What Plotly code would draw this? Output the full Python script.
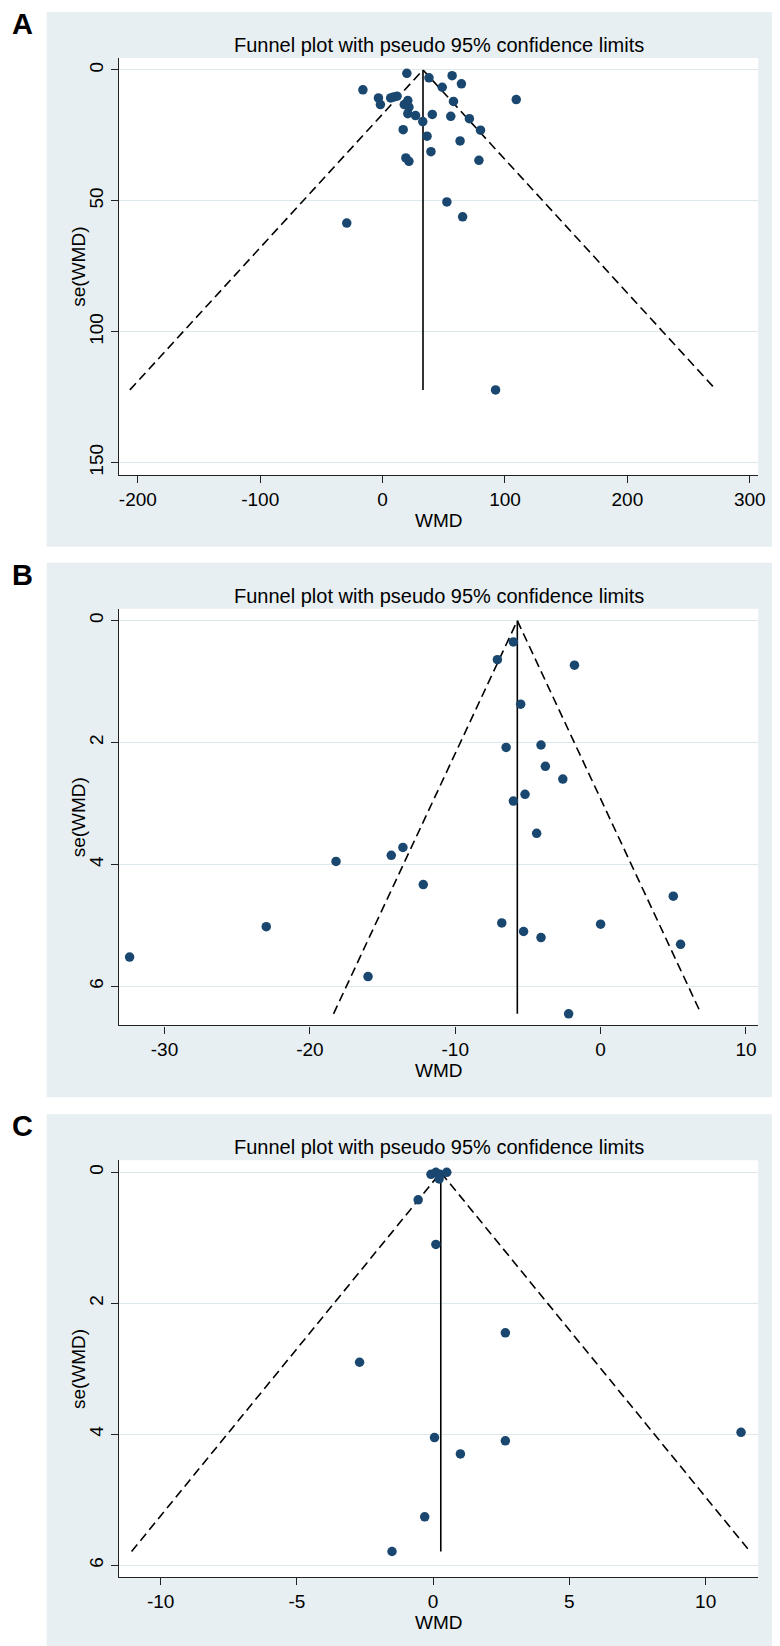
import plotly.graph_objects as go

# ---------------- data ----------------
A_wmd = [19.8, 37.9, 56.8, 64.4, 48.7, -16.1, -3.4, 6.6, 9.0, 11.8, -1.8, 20.6, 17.7, 21.5,
         20.6, 26.9, 40.6, 57.9, 109.2, 55.7, 70.9, 32.8, 16.8, 80.0, 36.3, 63.3, 39.5,
         19.0, 21.5, 78.7, 52.5, 65.4, -29.3, 92.3]
A_se = [1.3, 3.0, 2.2, 5.3, 6.6, 7.6, 10.7, 10.7, 10.3, 10.0, 13.2, 11.7, 13.2, 14.2,
        16.7, 17.4, 17.0, 12.0, 11.3, 17.7, 18.6, 19.7, 22.8, 23.0, 25.3, 27.1, 31.2,
        33.6, 34.9, 34.5, 50.4, 56.1, 58.5, 122.2]
A_pooled = 33.0

B_wmd = [-6.0, -7.1, -1.8, -5.5, -6.5, -4.1, -3.8, -2.6, -5.2, -6.0, -4.4, -14.4, -13.6,
         -18.2, -12.2, 5.0, -6.8, -5.3, -4.1, 0.0, 5.5, -32.4, -23.0, -16.0, -2.2]
B_se = [0.35, 0.64, 0.73, 1.37, 2.08, 2.04, 2.39, 2.60, 2.85, 2.96, 3.49, 3.85, 3.72,
        3.95, 4.33, 4.52, 4.96, 5.10, 5.20, 4.98, 5.31, 5.52, 5.02, 5.84, 6.45]
B_pooled = -5.73

C_wmd = [-0.08, 0.1, 0.25, 0.5, 0.22, -0.55, 0.1, 2.65, -2.7, 11.3, 0.05, 2.65, 1.0, -0.31, -1.51]
C_se = [0.03, 0.0, 0.03, 0.0, 0.1, 0.42, 1.1, 2.45, 2.9, 3.97, 4.05, 4.1, 4.3, 5.26, 5.79]
C_pooled = 0.28

A_xticks = [-200, -100, 0, 100, 200, 300]
A_yticks = [0, 50, 100, 150]
B_xticks = [-30, -20, -10, 0, 10]
B_yticks = [0, 2, 4, 6]
C_xticks = [-10, -5, 0, 5, 10]
C_yticks = [0, 2, 4, 6]

panel_letters = ["A", "B", "C"]
title_text = "Funnel plot with pseudo 95% confidence limits"
x_title = "WMD"
y_title = "se(WMD)"

# ---------------- layout constants (pixels) ----------------
W, H = 780, 1646
FONT = "Liberation Sans, Arial, sans-serif"
PANEL_BG = "#E7EFF2"
GRID = "#DDE8EC"
NAVY = "#1A476F"

offsets = [0, 551, 1103]
plot_l, plot_r = 112, 757
plot_t, plot_b = 50, 467
bg_l, bg_r, bg_t, bg_b = 39, 776, 4, 539

panels = [
    dict(wmd=A_wmd, se=A_se, pooled=A_pooled, xt=A_xticks, yt=A_yticks,
         xr=[-215.4, 306.9], yr=[154.6, -4.58]),
    dict(wmd=B_wmd, se=B_se, pooled=B_pooled, xt=B_xticks, yt=B_yticks,
         xr=[-33.13, 10.84], yr=[6.64, -0.197]),
    dict(wmd=C_wmd, se=C_se, pooled=C_pooled, xt=C_xticks, yt=C_yticks,
         xr=[-11.53, 11.93], yr=[6.18, -0.184]),
]


def fx(px):
    return px / W


def fy(py):
    return 1 - py / H


fig = go.Figure()
shapes = []
annotations = []

for i, p in enumerate(panels):
    off = offsets[i]
    n = "" if i == 0 else str(i + 1)
    xa = "xaxis" + n
    ya = "yaxis" + n
    xref = "x" + n
    yref = "y" + n

    # panel background and white plot region
    shapes.append(dict(type="rect", xref="paper", yref="paper", layer="below",
                       x0=fx(bg_l), x1=fx(bg_r), y0=fy(off + bg_b), y1=fy(off + bg_t),
                       fillcolor=PANEL_BG, line=dict(width=0)))
    shapes.append(dict(type="rect", xref="paper", yref="paper", layer="below",
                       x0=fx(plot_l), x1=fx(plot_r), y0=fy(off + plot_b), y1=fy(off + plot_t),
                       fillcolor="white", line=dict(width=0)))

    semax = max(p["se"])
    c = p["pooled"]
    # pseudo 95% CI lines
    fig.add_trace(go.Scatter(x=[c - 1.96 * semax, c, c + 1.96 * semax], y=[semax, 0, semax],
                             mode="lines", line=dict(color="black", width=1.6, dash="9px,5px"),
                             xaxis=xref, yaxis=yref, showlegend=False, hoverinfo="skip"))
    # pooled estimate line
    fig.add_trace(go.Scatter(x=[c, c], y=[0, semax], mode="lines",
                             line=dict(color="black", width=1.6),
                             xaxis=xref, yaxis=yref, showlegend=False, hoverinfo="skip"))
    # studies
    fig.add_trace(go.Scatter(x=p["wmd"], y=p["se"], mode="markers",
                             marker=dict(color=NAVY, size=9.5, line=dict(width=0)),
                             xaxis=xref, yaxis=yref, showlegend=False))

    common_axis = dict(showline=True, linecolor="#222222", linewidth=1.3, ticks="outside",
                       ticklen=7, tickwidth=1.2, tickcolor="#222222", zeroline=False,
                       tickfont=dict(family=FONT, size=19, color="black"), mirror=False)
    fig.update_layout(**{
        xa: dict(domain=[fx(plot_l), fx(plot_r)], range=p["xr"], tickmode="array",
                 tickvals=p["xt"], ticktext=[str(v) for v in p["xt"]],
                 showgrid=False, anchor=yref, **common_axis),
        ya: dict(domain=[fy(off + plot_b), fy(off + plot_t)], range=p["yr"], tickmode="array",
                 tickvals=p["yt"], ticktext=[str(v) for v in p["yt"]],
                 showgrid=True, gridcolor=GRID, gridwidth=1.2,
                 tickangle=-90, anchor=xref, **common_axis),
    })

    cx = (plot_l + plot_r) / 2
    annotations.append(dict(text=title_text, xref="paper", yref="paper", x=fx(cx), y=fy(off + 37),
                            showarrow=False, xanchor="center", yanchor="middle",
                            font=dict(family=FONT, size=20, color="black")))
    annotations.append(dict(text=x_title, xref="paper", yref="paper", x=fx(cx), y=fy(off + 500),
                            showarrow=False, xanchor="center", yanchor="top",
                            font=dict(family=FONT, size=19, color="black")))
    annotations.append(dict(text=y_title, xref="paper", yref="paper", x=fx(71),
                            y=fy(off + (plot_t + plot_b) / 2), textangle=-90,
                            showarrow=False, xanchor="center", yanchor="middle",
                            font=dict(family=FONT, size=19, color="black")))
    annotations.append(dict(text="<b>%s</b>" % panel_letters[i], xref="paper", yref="paper",
                            x=fx(15), y=fy(off + 16), showarrow=False,
                            xanchor="center", yanchor="middle",
                            font=dict(family=FONT, size=29, color="black")))

fig.update_layout(width=W, height=H, autosize=False,
                  margin=dict(l=0, r=0, t=0, b=0, pad=0),
                  paper_bgcolor="white", plot_bgcolor="rgba(0,0,0,0)",
                  shapes=shapes, annotations=annotations, showlegend=False)

fig.write_html("out.html")
